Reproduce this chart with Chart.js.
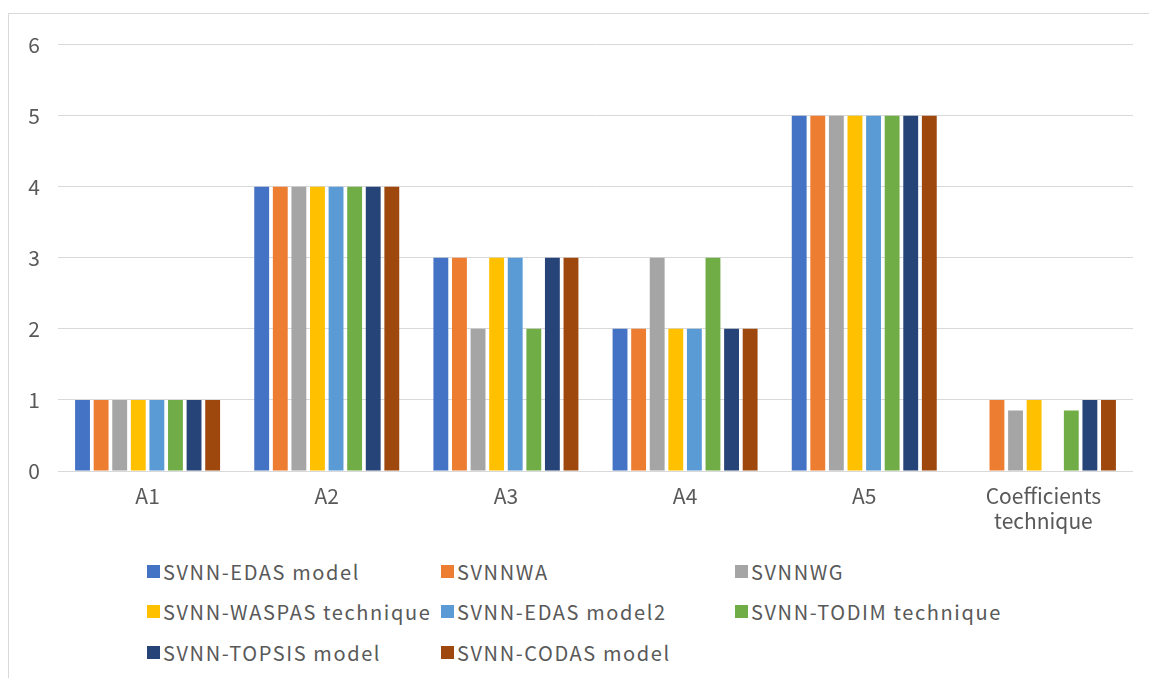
<!DOCTYPE html>
<html>
<head>
<meta charset="utf-8">
<script src="https://cdn.jsdelivr.net/npm/chart.js"></script>
<style>
  html, body { margin: 0; padding: 0; background: #fff; }
  body { width: 1149px; height: 678px; position: relative; overflow: hidden;
         font-family: "Noto Sans CJK SC", "Noto Sans", sans-serif; }
  .frame { position: absolute; left: 8px; top: 13px; width: 1150px; height: 680px;
           border: 1px solid #d9d9d9; box-sizing: border-box; }
  .plot { position: absolute; left: 9px; top: 14px; width: 1140px; height: 531px; }
  #legend { position: absolute; left: 147px; top: 551px; display: grid;
            grid-template-columns: 294px 294px 294px; grid-auto-rows: 40.5px; }
  .item { display: flex; align-items: center; font-size: 20px; color: #595959;
          white-space: nowrap; letter-spacing: 1.6px; }
  .sw { width: 13px; height: 13px; margin-right: 3px; flex: none; }
</style>
</head>
<body>
<div class="frame"></div>
<div class="plot"><canvas id="chart"></canvas></div>
<div id="legend"></div>
<script>
// Categories and series
const categories = ['A1', 'A2', 'A3', 'A4', 'A5', ['Coefficients', 'technique']];
const seriesNames = [
  'SVNN-EDAS model', 'SVNNWA', 'SVNNWG',
  'SVNN-WASPAS technique', 'SVNN-EDAS model2', 'SVNN-TODIM technique',
  'SVNN-TOPSIS model', 'SVNN-CODAS model'
];
const edas    = [1, 4, 3, 2, 5, null];
const wa      = [1, 4, 3, 2, 5, 1];
const wg      = [1, 4, 2, 3, 5, 0.85];
const waspas  = [1, 4, 3, 2, 5, 1];
const edas2   = [1, 4, 3, 2, 5, null];
const todim   = [1, 4, 2, 3, 5, 0.85];
const topsis  = [1, 4, 3, 2, 5, 1];
const codas   = [1, 4, 3, 2, 5, 1];
const yTicks  = [0, 1, 2, 3, 4, 5, 6];

const seriesValues = [edas, wa, wg, waspas, edas2, todim, topsis, codas];
const colors = ['#4472c4', '#ed7d31', '#a5a5a5', '#ffc000', '#5b9bd5', '#70ad47', '#264478', '#9e480e'];

const textColor = '#595959';
const gridColor = '#d9d9d9';
const fontFamily = '"Noto Sans CJK SC", "Noto Sans", sans-serif';

const ctx = document.getElementById('chart').getContext('2d');
const chart = new Chart(ctx, {
  type: 'bar',
  data: {
    labels: categories,
    datasets: seriesNames.map((name, i) => ({
      label: name,
      data: seriesValues[i],
      backgroundColor: colors[i],
      borderWidth: 0,
      categoryPercentage: 0.83,
      barPercentage: 0.8
    }))
  },
  options: {
    responsive: true,
    maintainAspectRatio: false,
    animation: false,
    layout: { padding: { top: 28, right: 16, left: 0, bottom: 0 } },
    plugins: {
      legend: { display: false },
      tooltip: { enabled: false }
    },
    scales: {
      x: {
        grid: { display: false },
        border: { display: false },
        ticks: {
          color: textColor,
          padding: 4,
          maxRotation: 0,
          font: { family: fontFamily, size: 21 }
        },
        afterFit: (scale) => { scale.height = 74; }
      },
      y: {
        min: 0,
        max: 6,
        afterBuildTicks: (scale) => { scale.ticks = yTicks.map(v => ({ value: v })); },
        grid: { color: gridColor, lineWidth: 1, drawTicks: false },
        border: { display: false },
        ticks: {
          color: textColor,
          padding: 18,
          font: { family: fontFamily, size: 21 }
        },
        afterFit: (scale) => { scale.width = 49; }
      }
    }
  }
});

// HTML legend built from the chart's datasets, three per row
const legendEl = document.getElementById('legend');
chart.data.datasets.forEach((ds) => {
  const item = document.createElement('div');
  item.className = 'item';
  const sw = document.createElement('span');
  sw.className = 'sw';
  sw.style.background = ds.backgroundColor;
  item.appendChild(sw);
  item.appendChild(document.createTextNode(ds.label));
  legendEl.appendChild(item);
});
</script>
</body>
</html>
